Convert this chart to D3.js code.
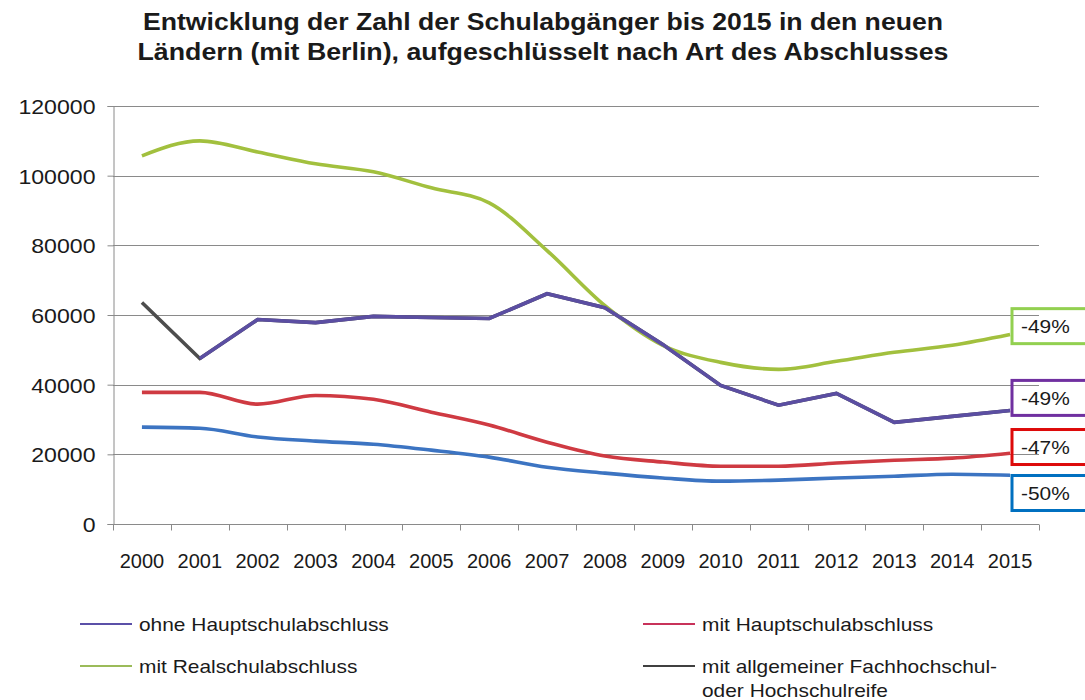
<!DOCTYPE html>
<html>
<head>
<meta charset="utf-8">
<script src="https://cdn.jsdelivr.net/npm/d3@7"></script>
<style>
    body { margin: 0; background: #fff; }
    #chart { width: 1085px; height: 700px; }
    text { font-family: "Liberation Sans", Arial, sans-serif; fill: #1a1a1a; }
</style>
</head>
<body>
<div id="chart"></div>
<script>

// categories
let years = ["2000", "2001", "2002", "2003", "2004", "2005", "2006", "2007",
             "2008", "2009", "2010", "2011", "2012", "2013", "2014", "2015"];

// series values
let ohneHauptschul = [27800, 27500, 25000, 23800, 22900, 21200, 19200, 16300,
                      14600, 13200, 12300, 12600, 13200, 13700, 14300, 14000];
let mitHauptschul = [37800, 37800, 34400, 36900, 35800, 32100, 28400, 23500,
                     19500, 17800, 16600, 16600, 17500, 18300, 18900, 20300];
let mitRealschul = [105700, 110000, 106800, 103400, 101100, 96500, 92200, 78500,
                    62700, 51300, 46400, 44400, 46700, 49300, 51300, 54400];
let mitHochschulreife = [63600, 47500, 58700, 57800, 59600, 59300, 59000, 66100,
                         62100, 51500, 39800, 34100, 37500, 29200, 30900, 32600];

// y ticks
let yTicks = [0, 20000, 40000, 60000, 80000, 100000, 120000];

// change labels at the right edge
let changeLabels = ["-50%", "-47%", "-49%", "-49%"];
let changeLabelAt = [8900, 22100, 36200, 56800];

// legend
let legendLabels = ["ohne Hauptschulabschluss", "mit Hauptschulabschluss",
                    "mit Realschulabschluss", "mit allgemeiner Fachhochschul-|oder Hochschulreife"];

let titleLines = ["Entwicklung der Zahl der Schulabgänger bis 2015 in den neuen",
                  "Ländern (mit Berlin), aufgeschlüsselt nach Art des Abschlusses"];


let width = 1085, height = 700;
let margin = {top: 106, right: 46, bottom: 176, left: 113};
let innerW = width - margin.left - margin.right;
let innerH = height - margin.top - margin.bottom;

let svg = d3.select("#chart").append("svg")
    .attr("width", width)
    .attr("height", height);

// stretch text a bit wider, the source render is slightly wide
function stretch(sel, k) {
    sel.each(function() {
        let len = this.getComputedTextLength();
        d3.select(this)
            .attr("textLength", len * k)
            .attr("lengthAdjust", "spacingAndGlyphs");
    });
}

// title
let titleWidths = [800, 811];
svg.selectAll(".title")
    .data(titleLines)
    .join("text")
    .attr("class", "title")
    .attr("x", 543)
    .attr("y", (d, i) => 30 + i * 30)
    .attr("text-anchor", "middle")
    .attr("font-size", "23px")
    .attr("font-weight", "bold")
    .attr("textLength", (d, i) => titleWidths[i])
    .attr("lengthAdjust", "spacingAndGlyphs")
    .text(d => d);

let g = svg.append("g")
    .attr("transform", `translate(${margin.left}, ${margin.top})`);

// scales
let x = d3.scaleBand()
    .domain(years)
    .range([0, innerW]);

let y = d3.scaleLinear()
    .domain([0, 120000])
    .range([innerH, 0]);

// gridlines
g.selectAll(".grid")
    .data(yTicks)
    .join("line")
    .attr("class", "grid")
    .attr("x1", 0)
    .attr("x2", innerW)
    .attr("y1", d => Math.round(y(d)) + 0.5)
    .attr("y2", d => Math.round(y(d)) + 0.5)
    .attr("stroke", "#8a8a8a")
    .attr("stroke-width", 1);

// y axis
let yAxis = d3.axisLeft(y)
    .tickValues(yTicks)
    .tickSize(6)
    .tickPadding(12)
    .tickFormat(d3.format("d"));

let yAxisGroup = g.append("g")
    .attr("class", "y-axis")
    .attr("transform", "translate(0.5, 0)")
    .call(yAxis);

yAxisGroup.selectAll("line, path").attr("stroke", "#8a8a8a");
yAxisGroup.selectAll("text")
    .attr("font-size", "21px")
    .attr("font-family", "Liberation Sans, Arial, sans-serif")
    .attr("fill", "#1a1a1a")
    .attr("dy", "0.36em")
    .call(stretch, 1.1);

// x axis: ticks on the band edges
let xAxisGroup = g.append("g")
    .attr("class", "x-axis")
    .attr("transform", `translate(0, ${innerH + 0.5})`);

xAxisGroup.append("line")
    .attr("x1", 0).attr("x2", innerW)
    .attr("stroke", "#8a8a8a");

xAxisGroup.selectAll(".tick-mark")
    .data(years.concat(["end"]))
    .join("line")
    .attr("class", "tick-mark")
    .attr("x1", (d, i) => Math.round(i * x.bandwidth()) + 0.5)
    .attr("x2", (d, i) => Math.round(i * x.bandwidth()) + 0.5)
    .attr("y1", 0)
    .attr("y2", 6)
    .attr("stroke", "#8a8a8a");

xAxisGroup.selectAll(".x-label")
    .data(years)
    .join("text")
    .attr("class", "x-label")
    .attr("x", d => x(d) + x.bandwidth() / 2)
    .attr("y", 43)
    .attr("text-anchor", "middle")
    .attr("font-size", "20px")
    .text(d => d);

// lines
let cx = (d, i) => x(years[i]) + x.bandwidth() / 2;

let smoothLine = d3.line()
    .x(cx)
    .y(d => y(d))
    .curve(d3.curveMonotoneX);

let straightLine = d3.line()
    .x(cx)
    .y(d => y(d));

let lineStroke = 3.6;

g.append("path")
    .datum(ohneHauptschul)
    .attr("fill", "none")
    .attr("stroke", "#3c74c2")
    .attr("stroke-width", lineStroke)
    .attr("d", smoothLine);

g.append("path")
    .datum(mitHauptschul)
    .attr("fill", "none")
    .attr("stroke", "#cf3a42")
    .attr("stroke-width", lineStroke)
    .attr("d", smoothLine);

// Hochschulreife: dark grey under, purple on top from 2001
g.append("path")
    .datum(mitHochschulreife)
    .attr("fill", "none")
    .attr("stroke", "#4d4d4d")
    .attr("stroke-width", lineStroke)
    .attr("d", straightLine);

g.append("path")
    .datum(mitRealschul)
    .attr("fill", "none")
    .attr("stroke", "#a2c03e")
    .attr("stroke-width", lineStroke)
    .attr("d", smoothLine);

g.append("path")
    .datum(mitHochschulreife)
    .attr("fill", "none")
    .attr("stroke", "#5b4ea2")
    .attr("stroke-width", lineStroke)
    .attr("d", straightLine.defined((d, i) => i >= 1));

// change boxes
let boxColors = ["#0070c0", "#dd0a0a", "#7030a0", "#92d050"];
let boxH = 35;

let boxes = g.selectAll(".change-box")
    .data(changeLabels)
    .join("g")
    .attr("class", "change-box")
    .attr("transform", (d, i) => `translate(${innerW - 27}, ${y(changeLabelAt[i])})`);

boxes.append("rect")
    .attr("x", 0)
    .attr("y", -boxH / 2)
    .attr("width", 90)
    .attr("height", boxH)
    .attr("fill", "none")
    .attr("stroke", (d, i) => boxColors[i])
    .attr("stroke-width", 3);

boxes.append("text")
    .attr("x", 9)
    .attr("y", 0)
    .attr("dy", "0.36em")
    .attr("font-size", "19px")
    .attr("fill", "#333")
    .text(d => d)
    .call(stretch, 1.1);

// legend
let legendColors = ["#5b50a8", "#c8325a", "#9bbb59", "#404040"];
let legendPos = [[80, 624], [643, 624], [80, 666], [643, 666]];

let legend = svg.selectAll(".legend")
    .data(legendLabels)
    .join("g")
    .attr("class", "legend")
    .attr("transform", (d, i) => `translate(${legendPos[i][0]}, ${legendPos[i][1]})`);

legend.append("line")
    .attr("x1", 0).attr("x2", 52)
    .attr("y1", 0).attr("y2", 0)
    .attr("stroke", (d, i) => legendColors[i])
    .attr("stroke-width", 2);

legend.each(function(d) {
    let parts = d.split("|");
    d3.select(this).selectAll("text")
        .data(parts)
        .join("text")
        .attr("x", 59)
        .attr("y", (p, j) => j * 24)
        .attr("dy", "0.36em")
        .attr("font-size", "19px")
        .text(p => p)
        .call(stretch, 1.1);
});

</script>
</body>
</html>
